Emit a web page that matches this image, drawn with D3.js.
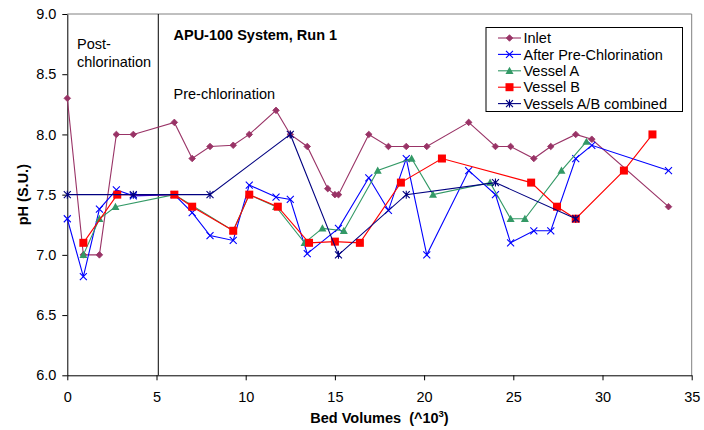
<!DOCTYPE html>
<html lang="en">
<head>
	<meta charset="UTF-8">
	<title>APU-100 System, Run 1</title>
	<script src="https://cdnjs.cloudflare.com/ajax/libs/d3/7.8.5/d3.min.js"></script>
	<style>
		body { margin: 0; background: #fff; }
		text { font-family: "Liberation Sans", Arial, sans-serif; }
	</style>
</head>
<body>
	<svg id="svg"></svg>
	<script>
		// values (x = bed volumes x10^3, y = pH)
		var inletX = [0, 0.9, 1.8, 2.75, 3.7, 6.0, 7.0, 8.0, 9.3, 10.2, 11.7, 12.5, 13.45, 14.6, 15.0, 15.2, 16.9, 18.0, 19.0, 20.15, 22.5, 24.0, 24.85, 26.15, 27.1, 28.5, 29.4, 33.7];
		var inletY = [8.3, 7.0, 7.0, 8.0, 8.0, 8.1, 7.8, 7.9, 7.91, 8.0, 8.2, 8.0, 7.9, 7.55, 7.5, 7.5, 8.0, 7.9, 7.9, 7.9, 8.1, 7.9, 7.9, 7.8, 7.9, 8.0, 7.96, 7.4];

		var preX = [0, 0.9, 1.8, 2.75, 3.7, 6.0, 7.0, 8.0, 9.3, 10.2, 11.7, 12.5, 13.45, 15.2, 16.9, 18.0, 19.0, 20.15, 22.5, 24.0, 24.85, 26.15, 27.1, 28.5, 29.4, 33.7];
		var preY = [7.3, 6.82, 7.38, 7.54, 7.49, 7.5, 7.35, 7.16, 7.12, 7.58, 7.48, 7.46, 7.01, 7.22, 7.64, 7.37, 7.8, 7.0, 7.7, 7.5, 7.1, 7.2, 7.2, 7.8, 7.91, 7.7];

		var vesselAX = [0.9, 1.8, 2.7, 6.0, 9.3, 10.2, 11.7, 13.3, 14.3, 15.5, 17.4, 19.3, 20.5, 23.7, 24.85, 25.65, 27.7, 29.1];
		var vesselAY = [7.0, 7.3, 7.4, 7.5, 7.2, 7.5, 7.4, 7.1, 7.22, 7.2, 7.7, 7.8, 7.5, 7.6, 7.3, 7.3, 7.7, 7.94];

		var vesselBX = [0.9, 2.8, 6.0, 7.0, 9.3, 10.2, 11.8, 13.55, 15.0, 16.4, 18.7, 21.0, 26.0, 27.45, 28.5, 31.2, 32.8];
		var vesselBY = [7.1, 7.5, 7.5, 7.4, 7.2, 7.5, 7.4, 7.1, 7.11, 7.1, 7.6, 7.8, 7.6, 7.4, 7.3, 7.7, 8.0];

		var comboX = [0, 3.7, 8.0, 12.5, 15.2, 19.0, 24.0, 28.5];
		var comboY = [7.5, 7.5, 7.5, 8.0, 7.0, 7.5, 7.6, 7.3];

		var seriesNames = ["Inlet", "After Pre-Chlorination", "Vessel A", "Vessel B", "Vessels A/B combined"];
		var xTicks = [0, 5, 10, 15, 20, 25, 30, 35];
		var yTicks = [6.0, 6.5, 7.0, 7.5, 8.0, 8.5, 9.0];
		var chlorSwitch = 5.1;

		window.onload = function() {
			var w = 704, h = 430,
				m = {top: 14, right: 12.3, bottom: 54.7, left: 67.3},
				svg = d3.select("#svg").attr("width", w).attr("height", h);

			var x = d3.scaleLinear().domain([0, 35]).range([m.left, w - m.right]);
			var y = d3.scaleLinear().domain([6, 9]).range([h - m.bottom, m.top]);

			var series = [
				{name: seriesNames[0], xs: inletX, ys: inletY, color: "#993366", marker: "dot"},
				{name: seriesNames[1], xs: preX, ys: preY, color: "#0000ff", marker: "x"},
				{name: seriesNames[2], xs: vesselAX, ys: vesselAY, color: "#339966", marker: "tri"},
				{name: seriesNames[3], xs: vesselBX, ys: vesselBY, color: "#ff0000", marker: "sq"},
				{name: seriesNames[4], xs: comboX, ys: comboY, color: "#000080", marker: "star"}
			];

			// plot frame (grey top/right)
			svg.append("path")
				.attr("d", "M" + x(0) + "," + y(9) + "H" + x(35) + "V" + y(6))
				.attr("fill", "none").attr("stroke", "#808080").attr("stroke-width", 1);

			// pre/post chlorination divider
			svg.append("line")
				.attr("x1", x(chlorSwitch)).attr("x2", x(chlorSwitch))
				.attr("y1", y(9)).attr("y2", y(6))
				.attr("stroke", "#000").attr("stroke-width", 1);

			var xAxis = svg.append("g")
				.attr("transform", "translate(0," + y(6) + ")")
				.call(d3.axisBottom(x).tickValues(xTicks).tickFormat(d3.format("d"))
					.tickSize(5).tickSizeOuter(0).tickPadding(11.5));
			var yAxis = svg.append("g")
				.attr("transform", "translate(" + x(0) + ",0)")
				.call(d3.axisLeft(y).tickValues(yTicks).tickFormat(d3.format(".1f"))
					.tickSize(5).tickSizeOuter(0).tickPadding(6));
			[xAxis, yAxis].forEach(function(a) {
				a.selectAll("text").attr("font-size", "14.5px").attr("fill", "#000")
					.style("font-family", "Liberation Sans, Arial, sans-serif");
				a.selectAll("line, path").attr("stroke", "#000");
			});

			function marker(sel, type, color) {
				if (type == "dot") {
					sel.append("path").attr("d", "M0,-3.3L3.3,0L0,3.3L-3.3,0Z").attr("fill", color)
						.attr("stroke", color).attr("stroke-width", 0.8).attr("stroke-linejoin", "round");
				} else if (type == "x") {
					sel.append("path").attr("d", "M-3.5,-3.5L3.5,3.5M-3.5,3.5L3.5,-3.5")
						.attr("stroke", color).attr("stroke-width", 1.1).attr("fill", "none");
				} else if (type == "tri") {
					sel.append("path").attr("d", "M0,-4L4,3.2L-4,3.2Z").attr("fill", color);
				} else if (type == "sq") {
					sel.append("rect").attr("x", -4).attr("y", -4).attr("width", 8).attr("height", 8)
						.attr("fill", color);
				} else {
					sel.append("path").attr("d", "M-3.5,-3.5L3.5,3.5M-3.5,3.5L3.5,-3.5M0,-4V4")
						.attr("stroke", color).attr("stroke-width", 1.1).attr("fill", "none");
				}
			}

			var line = d3.line()
				.x(function(d) { return x(d[0]); })
				.y(function(d) { return y(d[1]); });

			series.forEach(function(s) {
				var pts = s.xs.map(function(v, i) { return [v, s.ys[i]]; });
				var g = svg.append("g");
				g.append("path").datum(pts)
					.attr("d", line)
					.attr("fill", "none")
					.attr("stroke", s.color)
					.attr("stroke-width", 1.1);
				g.selectAll("g.mk").data(pts).enter().append("g")
					.attr("class", "mk")
					.attr("transform", function(d) { return "translate(" + x(d[0]) + "," + y(d[1]) + ")"; })
					.each(function() { marker(d3.select(this), s.marker, s.color); });
			});

			// texts
			svg.append("text").attr("x", 173.5).attr("y", 39.5)
				.attr("font-size", "14.5px").attr("font-weight", "bold")
				.text("APU-100 System, Run 1");
			svg.append("text").attr("x", 77).attr("y", 48.5).attr("font-size", "14.5px").text("Post-");
			svg.append("text").attr("x", 77).attr("y", 67).attr("font-size", "14.5px").text("chlorination");
			svg.append("text").attr("x", 173.5).attr("y", 98.5).attr("font-size", "14.5px").text("Pre-chlorination");

			var xt = svg.append("text")
				.attr("x", (x(0) + x(35)) / 2).attr("y", 423)
				.attr("text-anchor", "middle")
				.attr("font-size", "14.5px").attr("font-weight", "bold")
				.attr("xml:space", "preserve");
			xt.append("tspan").text("Bed Volumes  (^10");
			xt.append("tspan").attr("font-size", "9.5px").attr("dy", -6).text("3");
			xt.append("tspan").attr("dy", 6).text(")");

			svg.append("text")
				.attr("transform", "translate(28," + (y(7.5)) + ") rotate(-90)")
				.attr("text-anchor", "middle")
				.attr("font-size", "14.5px").attr("font-weight", "bold")
				.text("pH (S.U.)");

			// legend
			var lg = svg.append("g").attr("transform", "translate(486,27.5)");
			lg.append("rect").attr("width", 196.5).attr("height", 84)
				.attr("fill", "#fff").attr("stroke", "#000").attr("stroke-width", 1);
			series.forEach(function(s, i) {
				var row = lg.append("g").attr("transform", "translate(0," + (10.5 + i * 16.4) + ")");
				row.append("line").attr("x1", 12).attr("x2", 35)
					.attr("stroke", s.color).attr("stroke-width", 1.1);
				var mk = row.append("g").attr("transform", "translate(23.5,0)");
				marker(mk, s.marker, s.color);
				row.append("text").attr("x", 37.5).attr("y", 5.2)
					.attr("font-size", "14.5px").text(s.name);
			});
		}
	</script>
</body>
</html>
